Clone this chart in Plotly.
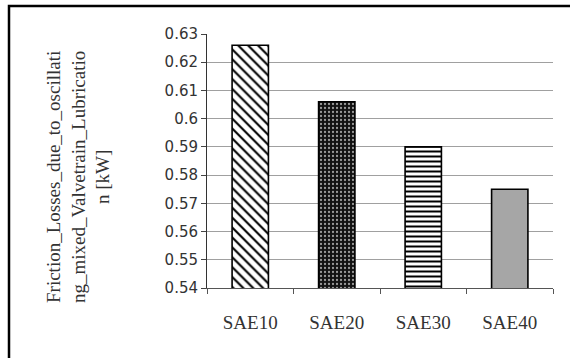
import plotly.graph_objects as go

categories = ["SAE10", "SAE20", "SAE30", "SAE40"]
values = [0.626, 0.606, 0.590, 0.575]
tick_vals = [0.54, 0.55, 0.56, 0.57, 0.58, 0.59, 0.60, 0.61, 0.62, 0.63]
tick_text = ["0.54", "0.55", "0.56", "0.57", "0.58", "0.59", "0.6", "0.61", "0.62", "0.63"]
y_title = "Friction_Losses_due_to_oscillati<br>ng_mixed_Valvetrain_Lubricatio<br>n [kW]"

# per-bar fill styles
shapes_ = ["\\", ".", "-", ""]
fgcols = ["black", "#9a9a9a", "black", "#a6a6a6"]
bgcols = ["white", "#111111", "white", "#a6a6a6"]
psizes = [7, 4, 5, 6]
solids = [0.3, 0.25, 0.4, 0.3]

W, H = 570, 358
L, R, T, B = 207, 17, 34, 70
pw, ph = W - L - R, H - T - B

def px_x(p):
    return (p - L) / pw

def px_y(p):
    return (H - B - p) / ph

fig = go.Figure()
for i, c in enumerate(categories):
    fig.add_trace(go.Bar(
        x=[c], y=[values[i]], width=0.42,
        marker=dict(
            color=bgcols[i],
            line=dict(color="black", width=1.6),
            pattern=dict(
                shape=shapes_[i], fgcolor=fgcols[i], bgcolor=bgcols[i],
                size=psizes[i], solidity=solids[i], fillmode="replace",
            ),
        ),
        showlegend=False,
    ))

fig.update_layout(
    width=W, height=H,
    margin=dict(l=L, r=R, t=T, b=B),
    paper_bgcolor="white", plot_bgcolor="white",
    barmode="overlay",
    xaxis=dict(
        categoryorder="array", categoryarray=categories,
        showline=True, linecolor="#555555", linewidth=1,
        ticks="outside", ticklen=5, tickcolor="#555555", tickson="boundaries",
        tickfont=dict(family="Liberation Serif", size=19, color="#333333"),
        ticklabelstandoff=17,
        showgrid=False,
    ),
    yaxis=dict(
        range=[0.54, 0.63], tickvals=tick_vals, ticktext=tick_text,
        showline=True, linecolor="#333333", linewidth=1,
        ticks="outside", ticklen=5, tickcolor="#444444",
        tickfont=dict(family="DejaVu Sans", size=15, color="#333333"),
        showgrid=True, gridcolor="#a0a0a0", gridwidth=1,
        zeroline=False,
    ),
    shapes=[dict(
        type="rect", xref="paper", yref="paper",
        x0=px_x(9), x1=px_x(620), y0=px_y(420), y1=px_y(6),
        line=dict(color="black", width=2.5),
    )],
    annotations=[dict(
        text=y_title, xref="paper", yref="paper",
        x=px_x(78), y=px_y(177), textangle=-90, showarrow=False,
        font=dict(family="Liberation Serif", size=19, color="#333333"),
        align="center", xanchor="center", yanchor="middle",
    )],
)

fig.write_html(
    "out.html",
    config={"displayModeBar": False},
    post_script="document.body.style.margin='0';document.body.style.overflow='hidden';",
)
